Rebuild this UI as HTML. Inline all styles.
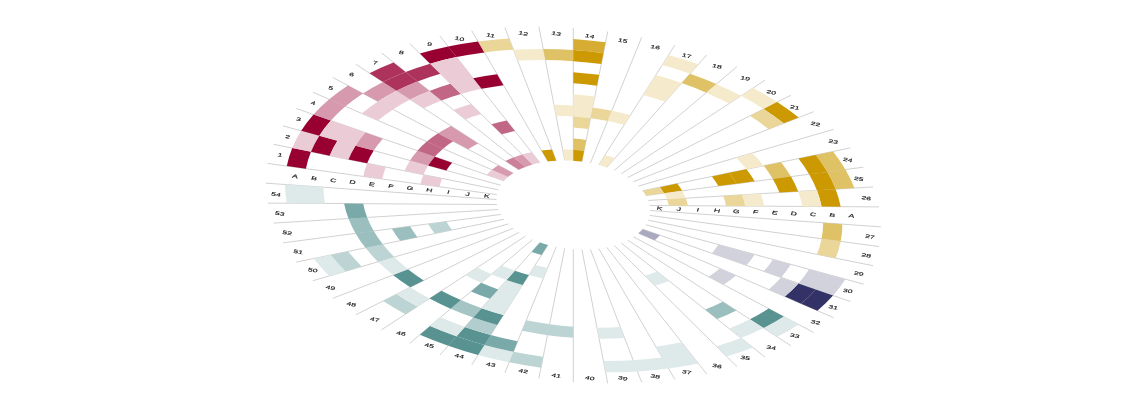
<!DOCTYPE html><html><head><meta charset="utf-8"><style>html,body{margin:0;padding:0;background:#fff;width:1140px;height:400px;overflow:hidden}</style></head><body><svg width="1140" height="400" viewBox="0 0 1140 400" style="display:block"><defs><filter id="b" x="-5%" y="-5%" width="110%" height="110%"><feGaussianBlur stdDeviation="0.55"/></filter></defs>
<g filter="url(#b)">
<g transform="matrix(0.96100 0.06833 0.00000 0.55333 573.30 205.00)">
<path d="M0.00 -80.00L0.00 -320.00M8.96 -79.50L35.83 -317.99M17.80 -77.99L71.21 -311.98M26.42 -75.51L105.69 -302.04M34.71 -72.08L138.84 -288.31M42.56 -67.74L170.25 -270.95M49.88 -62.55L199.52 -250.19M56.57 -56.57L226.27 -226.27M62.55 -49.88L250.19 -199.52M67.74 -42.56L270.95 -170.25M72.08 -34.71L288.31 -138.84M75.51 -26.42L302.04 -105.69M77.99 -17.80L311.98 -71.21M79.50 -8.96L317.99 -35.83M80.00 -0.00L320.00 -0.00M79.50 8.96L317.99 35.83M77.99 17.80L311.98 71.21M75.51 26.42L302.04 105.69M72.08 34.71L288.31 138.84M67.74 42.56L270.95 170.25M62.55 49.88L250.19 199.52M56.57 56.57L226.27 226.27M49.88 62.55L199.52 250.19M42.56 67.74L170.25 270.95M34.71 72.08L138.84 288.31M26.42 75.51L105.69 302.04M17.80 77.99L71.21 311.98M8.96 79.50L35.83 317.99M0.00 80.00L0.00 320.00M-8.96 79.50L-35.83 317.99M-17.80 77.99L-71.21 311.98M-26.42 75.51L-105.69 302.04M-34.71 72.08L-138.84 288.31M-42.56 67.74L-170.25 270.95M-49.88 62.55L-199.52 250.19M-56.57 56.57L-226.27 226.27M-62.55 49.88L-250.19 199.52M-67.74 42.56L-270.95 170.25M-72.08 34.71L-288.31 138.84M-75.51 26.42L-302.04 105.69M-77.99 17.80L-311.98 71.21M-79.50 8.96L-317.99 35.83M-80.00 0.00L-320.00 0.00M-79.50 -8.96L-317.99 -35.83M-77.99 -17.80L-311.98 -71.21M-75.51 -26.42L-302.04 -105.69M-72.08 -34.71L-288.31 -138.84M-67.74 -42.56L-270.95 -170.25M-62.55 -49.88L-250.19 -199.52M-56.57 -56.57L-226.27 -226.27M-49.88 -62.55L-199.52 -250.19M-42.56 -67.74L-170.25 -270.95M-34.71 -72.08L-138.84 -288.31M-26.42 -75.51L-105.69 -302.04M-17.80 -77.99L-71.21 -311.98M-8.96 -79.50L-35.83 -317.99" fill="none" stroke="#c4c4c4" stroke-width="1.0"/>
<path d="M-298.11 -33.59A300 300 0 0 1 -292.48 -66.76L-272.98 -62.31A280 280 0 0 0 -278.24 -31.35Z" fill="#990033"/>
<path d="M-218.62 -24.63A220 220 0 0 1 -214.48 -48.95L-194.99 -44.50A200 200 0 0 0 -198.74 -22.39Z" fill="#ebccd6"/>
<path d="M-158.99 -17.91A160 160 0 0 1 -155.99 -35.60L-136.49 -31.15A140 140 0 0 0 -139.12 -15.68Z" fill="#ebccd6"/>
<path d="M-292.48 -66.76A300 300 0 0 1 -283.16 -99.08L-264.29 -92.48A280 280 0 0 0 -272.98 -62.31Z" fill="#ebccd6"/>
<path d="M-272.98 -62.31A280 280 0 0 1 -264.29 -92.48L-245.41 -85.87A260 260 0 0 0 -253.48 -57.86Z" fill="#990033"/>
<path d="M-253.48 -57.86A260 260 0 0 1 -245.41 -85.87L-226.53 -79.27A240 240 0 0 0 -233.98 -53.41Z" fill="#ebccd6"/>
<path d="M-233.98 -53.41A240 240 0 0 1 -226.53 -79.27L-207.65 -72.66A220 220 0 0 0 -214.48 -48.95Z" fill="#990033"/>
<path d="M-175.49 -40.05A180 180 0 0 1 -169.90 -59.45L-151.02 -52.84A160 160 0 0 0 -155.99 -35.60Z" fill="#ebccd6"/>
<path d="M-283.16 -99.08A300 300 0 0 1 -270.29 -130.17L-252.27 -121.49A280 280 0 0 0 -264.29 -92.48Z" fill="#990033"/>
<path d="M-264.29 -92.48A280 280 0 0 1 -252.27 -121.49L-216.23 -104.13A240 240 0 0 0 -226.53 -79.27Z" fill="#ebccd6"/>
<path d="M-226.53 -79.27A240 240 0 0 1 -216.23 -104.13L-198.21 -95.45A220 220 0 0 0 -207.65 -72.66Z" fill="#d699ad"/>
<path d="M-169.90 -59.45A180 180 0 0 1 -162.17 -78.10L-144.16 -69.42A160 160 0 0 0 -151.02 -52.84Z" fill="#d699ad"/>
<path d="M-151.02 -52.84A160 160 0 0 1 -144.16 -69.42L-126.14 -60.74A140 140 0 0 0 -132.14 -46.24Z" fill="#990033"/>
<path d="M-270.29 -130.17A300 300 0 0 1 -254.02 -159.61L-237.08 -148.97A280 280 0 0 0 -252.27 -121.49Z" fill="#d699ad"/>
<path d="M-162.17 -78.10A180 180 0 0 1 -152.41 -95.77L-135.48 -85.13A160 160 0 0 0 -144.16 -69.42Z" fill="#c26685"/>
<path d="M-90.10 -43.39A100 100 0 0 1 -84.67 -53.20L-67.74 -42.56A80 80 0 0 0 -72.08 -34.71Z" fill="#ebccd6"/>
<path d="M-254.02 -159.61A300 300 0 0 1 -234.55 -187.05L-218.91 -174.58A280 280 0 0 0 -237.08 -148.97Z" fill="#d699ad"/>
<path d="M-220.15 -138.33A260 260 0 0 1 -203.28 -162.11L-187.64 -149.64A240 240 0 0 0 -203.21 -127.69Z" fill="#ebccd6"/>
<path d="M-152.41 -95.77A180 180 0 0 1 -140.73 -112.23L-125.09 -99.76A160 160 0 0 0 -135.48 -85.13Z" fill="#c26685"/>
<path d="M-84.67 -53.20A100 100 0 0 1 -78.18 -62.35L-62.55 -49.88A80 80 0 0 0 -67.74 -42.56Z" fill="#d699ad"/>
<path d="M-218.91 -174.58A280 280 0 0 1 -197.99 -197.99L-183.85 -183.85A260 260 0 0 0 -203.28 -162.11Z" fill="#d699ad"/>
<path d="M-203.28 -162.11A260 260 0 0 1 -183.85 -183.85L-169.71 -169.71A240 240 0 0 0 -187.64 -149.64Z" fill="#ebccd6"/>
<path d="M-140.73 -112.23A180 180 0 0 1 -127.28 -127.28L-98.99 -98.99A140 140 0 0 0 -109.46 -87.29Z" fill="#d699ad"/>
<path d="M-212.13 -212.13A300 300 0 0 1 -187.05 -234.55L-174.58 -218.91A280 280 0 0 0 -197.99 -197.99Z" fill="#ad335c"/>
<path d="M-197.99 -197.99A280 280 0 0 1 -174.58 -218.91L-162.11 -203.28A260 260 0 0 0 -183.85 -183.85Z" fill="#ad335c"/>
<path d="M-183.85 -183.85A260 260 0 0 1 -162.11 -203.28L-149.64 -187.64A240 240 0 0 0 -169.71 -169.71Z" fill="#d699ad"/>
<path d="M-169.71 -169.71A240 240 0 0 1 -149.64 -187.64L-137.17 -172.00A220 220 0 0 0 -155.56 -155.56Z" fill="#ebccd6"/>
<path d="M-70.71 -70.71A100 100 0 0 1 -62.35 -78.18L-49.88 -62.55A80 80 0 0 0 -56.57 -56.57Z" fill="#cc8099"/>
<path d="M-174.58 -218.91A280 280 0 0 1 -148.97 -237.08L-138.33 -220.15A260 260 0 0 0 -162.11 -203.28Z" fill="#ad335c"/>
<path d="M-149.64 -187.64A240 240 0 0 1 -127.69 -203.21L-117.05 -186.28A220 220 0 0 0 -137.17 -172.00Z" fill="#c26685"/>
<path d="M-124.70 -156.37A200 200 0 0 1 -106.41 -169.34L-95.77 -152.41A180 180 0 0 0 -112.23 -140.73Z" fill="#ebccd6"/>
<path d="M-62.35 -78.18A100 100 0 0 1 -53.20 -84.67L-42.56 -67.74A80 80 0 0 0 -49.88 -62.55Z" fill="#d699ad"/>
<path d="M-159.61 -254.02A300 300 0 0 1 -130.17 -270.29L-121.49 -252.27A280 280 0 0 0 -148.97 -237.08Z" fill="#990033"/>
<path d="M-148.97 -237.08A280 280 0 0 1 -121.49 -252.27L-95.45 -198.21A220 220 0 0 0 -117.05 -186.28Z" fill="#ebccd6"/>
<path d="M-85.13 -135.48A160 160 0 0 1 -69.42 -144.16L-60.74 -126.14A140 140 0 0 0 -74.48 -118.54Z" fill="#c26685"/>
<path d="M-53.20 -84.67A100 100 0 0 1 -43.39 -90.10L-34.71 -72.08A80 80 0 0 0 -42.56 -67.74Z" fill="#ebccd6"/>
<path d="M-130.17 -270.29A300 300 0 0 1 -99.08 -283.16L-92.48 -264.29A280 280 0 0 0 -121.49 -252.27Z" fill="#990033"/>
<path d="M-104.13 -216.23A240 240 0 0 1 -79.27 -226.53L-72.66 -207.65A220 220 0 0 0 -95.45 -198.21Z" fill="#990033"/>
<path d="M-99.08 -283.16A300 300 0 0 1 -66.76 -292.48L-62.31 -272.98A280 280 0 0 0 -92.48 -264.29Z" fill="#ebd699"/>
<path d="M-33.03 -94.39A100 100 0 0 1 -22.25 -97.49L-17.80 -77.99A80 80 0 0 0 -26.42 -75.51Z" fill="#cc9900"/>
<path d="M-62.31 -272.98A280 280 0 0 1 -31.35 -278.24L-29.11 -258.37A260 260 0 0 0 -57.86 -253.48Z" fill="#f5ebcc"/>
<path d="M-31.35 -278.24A280 280 0 0 1 -0.00 -280.00L-0.00 -260.00A260 260 0 0 0 -29.11 -258.37Z" fill="#e0c266"/>
<path d="M-20.15 -178.87A180 180 0 0 1 -0.00 -180.00L-0.00 -160.00A160 160 0 0 0 -17.91 -158.99Z" fill="#f5ebcc"/>
<path d="M-11.20 -99.37A100 100 0 0 1 -0.00 -100.00L-0.00 -80.00A80 80 0 0 0 -8.96 -79.50Z" fill="#f5ebcc"/>
<path d="M0.00 -300.00A300 300 0 0 1 33.59 -298.11L31.35 -278.24A280 280 0 0 0 0.00 -280.00Z" fill="#d6ad33"/>
<path d="M0.00 -280.00A280 280 0 0 1 31.35 -278.24L29.11 -258.37A260 260 0 0 0 0.00 -260.00Z" fill="#cc9900"/>
<path d="M0.00 -240.00A240 240 0 0 1 26.87 -238.49L24.63 -218.62A220 220 0 0 0 0.00 -220.00Z" fill="#cc9900"/>
<path d="M0.00 -200.00A200 200 0 0 1 22.39 -198.74L17.91 -158.99A160 160 0 0 0 0.00 -160.00Z" fill="#f5ebcc"/>
<path d="M0.00 -160.00A160 160 0 0 1 17.91 -158.99L15.68 -139.12A140 140 0 0 0 0.00 -140.00Z" fill="#ebd699"/>
<path d="M0.00 -120.00A120 120 0 0 1 13.44 -119.25L11.20 -99.37A100 100 0 0 0 0.00 -100.00Z" fill="#e0c266"/>
<path d="M0.00 -100.00A100 100 0 0 1 11.20 -99.37L8.96 -79.50A80 80 0 0 0 0.00 -80.00Z" fill="#cc9900"/>
<path d="M20.15 -178.87A180 180 0 0 1 40.05 -175.49L35.60 -155.99A160 160 0 0 0 17.91 -158.99Z" fill="#ebd699"/>
<path d="M40.05 -175.49A180 180 0 0 1 59.45 -169.90L52.84 -151.02A160 160 0 0 0 35.60 -155.99Z" fill="#f5ebcc"/>
<path d="M99.08 -283.16A300 300 0 0 1 130.17 -270.29L121.49 -252.27A280 280 0 0 0 92.48 -264.29Z" fill="#f5ebcc"/>
<path d="M85.87 -245.41A260 260 0 0 1 112.81 -234.25L95.45 -198.21A220 220 0 0 0 72.66 -207.65Z" fill="#f5ebcc"/>
<path d="M33.03 -94.39A100 100 0 0 1 43.39 -90.10L34.71 -72.08A80 80 0 0 0 26.42 -75.51Z" fill="#f5ebcc"/>
<path d="M121.49 -252.27A280 280 0 0 1 148.97 -237.08L138.33 -220.15A260 260 0 0 0 112.81 -234.25Z" fill="#e0c266"/>
<path d="M148.97 -237.08A280 280 0 0 1 174.58 -218.91L162.11 -203.28A260 260 0 0 0 138.33 -220.15Z" fill="#f5ebcc"/>
<path d="M187.05 -234.55A300 300 0 0 1 212.13 -212.13L197.99 -197.99A280 280 0 0 0 174.58 -218.91Z" fill="#f5ebcc"/>
<path d="M212.13 -212.13A300 300 0 0 1 234.55 -187.05L218.91 -174.58A280 280 0 0 0 197.99 -197.99Z" fill="#cc9900"/>
<path d="M197.99 -197.99A280 280 0 0 1 218.91 -174.58L203.28 -162.11A260 260 0 0 0 183.85 -183.85Z" fill="#ebd699"/>
<path d="M186.28 -117.05A220 220 0 0 1 198.21 -95.45L180.19 -86.78A200 200 0 0 0 169.34 -106.41Z" fill="#f5ebcc"/>
<path d="M270.29 -130.17A300 300 0 0 1 283.16 -99.08L264.29 -92.48A280 280 0 0 0 252.27 -121.49Z" fill="#e0c266"/>
<path d="M252.27 -121.49A280 280 0 0 1 264.29 -92.48L245.41 -85.87A260 260 0 0 0 234.25 -112.81Z" fill="#cc9900"/>
<path d="M216.23 -104.13A240 240 0 0 1 226.53 -79.27L207.65 -72.66A220 220 0 0 0 198.21 -95.45Z" fill="#e0c266"/>
<path d="M180.19 -86.78A200 200 0 0 1 188.78 -66.06L169.90 -59.45A180 180 0 0 0 162.17 -78.10Z" fill="#cc9900"/>
<path d="M162.17 -78.10A180 180 0 0 1 169.90 -59.45L151.02 -52.84A160 160 0 0 0 144.16 -69.42Z" fill="#cc9900"/>
<path d="M108.12 -52.07A120 120 0 0 1 113.27 -39.63L94.39 -33.03A100 100 0 0 0 90.10 -43.39Z" fill="#cc9900"/>
<path d="M90.10 -43.39A100 100 0 0 1 94.39 -33.03L75.51 -26.42A80 80 0 0 0 72.08 -34.71Z" fill="#ebd699"/>
<path d="M283.16 -99.08A300 300 0 0 1 292.48 -66.76L272.98 -62.31A280 280 0 0 0 264.29 -92.48Z" fill="#e0c266"/>
<path d="M264.29 -92.48A280 280 0 0 1 272.98 -62.31L253.48 -57.86A260 260 0 0 0 245.41 -85.87Z" fill="#cc9900"/>
<path d="M226.53 -79.27A240 240 0 0 1 233.98 -53.41L214.48 -48.95A220 220 0 0 0 207.65 -72.66Z" fill="#cc9900"/>
<path d="M113.27 -39.63A120 120 0 0 1 116.99 -26.70L97.49 -22.25A100 100 0 0 0 94.39 -33.03Z" fill="#f5ebcc"/>
<path d="M272.98 -62.31A280 280 0 0 1 278.24 -31.35L258.37 -29.11A260 260 0 0 0 253.48 -57.86Z" fill="#cc9900"/>
<path d="M253.48 -57.86A260 260 0 0 1 258.37 -29.11L238.49 -26.87A240 240 0 0 0 233.98 -53.41Z" fill="#f5ebcc"/>
<path d="M194.99 -44.50A200 200 0 0 1 198.74 -22.39L178.87 -20.15A180 180 0 0 0 175.49 -40.05Z" fill="#f5ebcc"/>
<path d="M175.49 -40.05A180 180 0 0 1 178.87 -20.15L158.99 -17.91A160 160 0 0 0 155.99 -35.60Z" fill="#ebd699"/>
<path d="M116.99 -26.70A120 120 0 0 1 119.25 -13.44L99.37 -11.20A100 100 0 0 0 97.49 -22.25Z" fill="#ebd699"/>
<path d="M280.00 -0.00A280 280 0 0 1 278.24 31.35L258.37 29.11A260 260 0 0 0 260.00 -0.00Z" fill="#e0c266"/>
<path d="M278.24 31.35A280 280 0 0 1 272.98 62.31L253.48 57.86A260 260 0 0 0 258.37 29.11Z" fill="#ebd699"/>
<path d="M283.16 99.08A300 300 0 0 1 270.29 130.17L234.25 112.81A260 260 0 0 0 245.41 85.87Z" fill="#d2d2dd"/>
<path d="M226.53 79.27A240 240 0 0 1 216.23 104.13L198.21 95.45A220 220 0 0 0 207.65 72.66Z" fill="#d2d2dd"/>
<path d="M188.78 66.06A200 200 0 0 1 180.19 86.78L144.16 69.42A160 160 0 0 0 151.02 52.84Z" fill="#d2d2dd"/>
<path d="M270.29 130.17A300 300 0 0 1 254.02 159.61L237.08 148.97A280 280 0 0 0 252.27 121.49Z" fill="#333366"/>
<path d="M252.27 121.49A280 280 0 0 1 237.08 148.97L220.15 138.33A260 260 0 0 0 234.25 112.81Z" fill="#333366"/>
<path d="M234.25 112.81A260 260 0 0 1 220.15 138.33L203.21 127.69A240 240 0 0 0 216.23 104.13Z" fill="#d2d2dd"/>
<path d="M90.10 43.39A100 100 0 0 1 84.67 53.20L67.74 42.56A80 80 0 0 0 72.08 34.71Z" fill="#a9a9bf"/>
<path d="M169.34 106.41A200 200 0 0 1 156.37 124.70L140.73 112.23A180 180 0 0 0 152.41 95.77Z" fill="#d2d2dd"/>
<path d="M234.55 187.05A300 300 0 0 1 212.13 212.13L197.99 197.99A280 280 0 0 0 218.91 174.58Z" fill="#dee9e9"/>
<path d="M218.91 174.58A280 280 0 0 1 197.99 197.99L183.85 183.85A260 260 0 0 0 203.28 162.11Z" fill="#589392"/>
<path d="M197.99 197.99A280 280 0 0 1 174.58 218.91L162.11 203.28A260 260 0 0 0 183.85 183.85Z" fill="#dee9e9"/>
<path d="M169.71 169.71A240 240 0 0 1 149.64 187.64L137.17 172.00A220 220 0 0 0 155.56 155.56Z" fill="#9bbebe"/>
<path d="M187.05 234.55A300 300 0 0 1 159.61 254.02L148.97 237.08A280 280 0 0 0 174.58 218.91Z" fill="#dee9e9"/>
<path d="M99.76 125.09A160 160 0 0 1 85.13 135.48L74.48 118.54A140 140 0 0 0 87.29 109.46Z" fill="#dee9e9"/>
<path d="M130.17 270.29A300 300 0 0 1 99.08 283.16L85.87 245.41A260 260 0 0 0 112.81 234.25Z" fill="#dee9e9"/>
<path d="M99.08 283.16A300 300 0 0 1 66.76 292.48L62.31 272.98A280 280 0 0 0 92.48 264.29Z" fill="#dee9e9"/>
<path d="M66.76 292.48A300 300 0 0 1 33.59 298.11L31.35 278.24A280 280 0 0 0 62.31 272.98Z" fill="#dee9e9"/>
<path d="M53.41 233.98A240 240 0 0 1 26.87 238.49L24.63 218.62A220 220 0 0 0 48.95 214.48Z" fill="#dee9e9"/>
<path d="M0.00 240.00A240 240 0 0 1 -26.87 238.49L-24.63 218.62A220 220 0 0 0 0.00 220.00Z" fill="#bcd4d3"/>
<path d="M-33.59 298.11A300 300 0 0 1 -66.76 292.48L-62.31 272.98A280 280 0 0 0 -31.35 278.24Z" fill="#bcd4d3"/>
<path d="M-26.87 238.49A240 240 0 0 1 -53.41 233.98L-48.95 214.48A220 220 0 0 0 -24.63 218.62Z" fill="#bcd4d3"/>
<path d="M-66.76 292.48A300 300 0 0 1 -99.08 283.16L-92.48 264.29A280 280 0 0 0 -62.31 272.98Z" fill="#dee9e9"/>
<path d="M-62.31 272.98A280 280 0 0 1 -92.48 264.29L-85.87 245.41A260 260 0 0 0 -57.86 253.48Z" fill="#79a9a8"/>
<path d="M-31.15 136.49A140 140 0 0 1 -46.24 132.14L-39.63 113.27A120 120 0 0 0 -26.70 116.99Z" fill="#dee9e9"/>
<path d="M-99.08 283.16A300 300 0 0 1 -130.17 270.29L-121.49 252.27A280 280 0 0 0 -92.48 264.29Z" fill="#589392"/>
<path d="M-92.48 264.29A280 280 0 0 1 -121.49 252.27L-112.81 234.25A260 260 0 0 0 -85.87 245.41Z" fill="#589392"/>
<path d="M-85.87 245.41A260 260 0 0 1 -112.81 234.25L-104.13 216.23A240 240 0 0 0 -79.27 226.53Z" fill="#b2cdcd"/>
<path d="M-79.27 226.53A240 240 0 0 1 -104.13 216.23L-95.45 198.21A220 220 0 0 0 -72.66 207.65Z" fill="#589392"/>
<path d="M-72.66 207.65A220 220 0 0 1 -95.45 198.21L-69.42 144.16A160 160 0 0 0 -52.84 151.02Z" fill="#dee9e9"/>
<path d="M-52.84 151.02A160 160 0 0 1 -69.42 144.16L-60.74 126.14A140 140 0 0 0 -46.24 132.14Z" fill="#589392"/>
<path d="M-33.03 94.39A100 100 0 0 1 -43.39 90.10L-34.71 72.08A80 80 0 0 0 -26.42 75.51Z" fill="#79a9a8"/>
<path d="M-130.17 270.29A300 300 0 0 1 -159.61 254.02L-148.97 237.08A280 280 0 0 0 -121.49 252.27Z" fill="#589392"/>
<path d="M-121.49 252.27A280 280 0 0 1 -148.97 237.08L-138.33 220.15A260 260 0 0 0 -112.81 234.25Z" fill="#dee9e9"/>
<path d="M-104.13 216.23A240 240 0 0 1 -127.69 203.21L-117.05 186.28A220 220 0 0 0 -95.45 198.21Z" fill="#a5c5c4"/>
<path d="M-86.78 180.19A200 200 0 0 1 -106.41 169.34L-95.77 152.41A180 180 0 0 0 -78.10 162.17Z" fill="#79a9a8"/>
<path d="M-69.42 144.16A160 160 0 0 1 -85.13 135.48L-74.48 118.54A140 140 0 0 0 -60.74 126.14Z" fill="#dee9e9"/>
<path d="M-127.69 203.21A240 240 0 0 1 -149.64 187.64L-137.17 172.00A220 220 0 0 0 -117.05 186.28Z" fill="#589392"/>
<path d="M-95.77 152.41A180 180 0 0 1 -112.23 140.73L-99.76 125.09A160 160 0 0 0 -85.13 135.48Z" fill="#dee9e9"/>
<path d="M-174.58 218.91A280 280 0 0 1 -197.99 197.99L-183.85 183.85A260 260 0 0 0 -162.11 203.28Z" fill="#bcd4d3"/>
<path d="M-162.11 203.28A260 260 0 0 1 -183.85 183.85L-169.71 169.71A240 240 0 0 0 -149.64 187.64Z" fill="#dee9e9"/>
<path d="M-169.71 169.71A240 240 0 0 1 -187.64 149.64L-172.00 137.17A220 220 0 0 0 -155.56 155.56Z" fill="#589392"/>
<path d="M-187.64 149.64A240 240 0 0 1 -203.21 127.69L-186.28 117.05A220 220 0 0 0 -172.00 137.17Z" fill="#dee9e9"/>
<path d="M-254.02 159.61A300 300 0 0 1 -270.29 130.17L-252.27 121.49A280 280 0 0 0 -237.08 148.97Z" fill="#dee9e9"/>
<path d="M-237.08 148.97A280 280 0 0 1 -252.27 121.49L-234.25 112.81A260 260 0 0 0 -220.15 138.33Z" fill="#bcd4d3"/>
<path d="M-203.21 127.69A240 240 0 0 1 -216.23 104.13L-198.21 95.45A220 220 0 0 0 -186.28 117.05Z" fill="#bcd4d3"/>
<path d="M-216.23 104.13A240 240 0 0 1 -226.53 79.27L-207.65 72.66A220 220 0 0 0 -198.21 95.45Z" fill="#9bbebe"/>
<path d="M-180.19 86.78A200 200 0 0 1 -188.78 66.06L-169.90 59.45A180 180 0 0 0 -162.17 78.10Z" fill="#9bbebe"/>
<path d="M-144.16 69.42A160 160 0 0 1 -151.02 52.84L-132.14 46.24A140 140 0 0 0 -126.14 60.74Z" fill="#bcd4d3"/>
<path d="M-226.53 79.27A240 240 0 0 1 -233.98 53.41L-214.48 48.95A220 220 0 0 0 -207.65 72.66Z" fill="#9bbebe"/>
<path d="M-233.98 53.41A240 240 0 0 1 -238.49 26.87L-218.62 24.63A220 220 0 0 0 -214.48 48.95Z" fill="#79a9a8"/>
<path d="M-298.11 33.59A300 300 0 0 1 -300.00 0.00L-260.00 0.00A260 260 0 0 0 -258.37 29.11Z" fill="#dee9e9"/>
<g font-family="Liberation Sans, sans-serif" font-size="9" text-anchor="middle" fill="#1a1a1a" stroke="#1a1a1a" stroke-width="0.25">
<text transform="translate(-305.13 -51.84) rotate(10)" y="2.04">1</text>
<text transform="translate(-297.40 -85.68) rotate(10)" y="2.04">2</text>
<text transform="translate(-285.94 -118.44) rotate(10)" y="2.04">3</text>
<text transform="translate(-270.88 -149.71) rotate(10)" y="2.04">4</text>
<text transform="translate(-252.42 -179.10) rotate(10)" y="2.04">5</text>
<text transform="translate(-230.78 -206.23) rotate(10)" y="2.04">6</text>
<text transform="translate(-206.23 -230.78) rotate(10)" y="2.04">7</text>
<text transform="translate(-179.10 -252.42) rotate(10)" y="2.04">8</text>
<text transform="translate(-149.71 -270.88) rotate(10)" y="2.04">9</text>
<text transform="translate(-118.44 -285.94) rotate(10)" y="3.24">10</text>
<text transform="translate(-85.68 -297.40) rotate(10)" y="4.74">11</text>
<text transform="translate(-51.84 -305.13) rotate(10)" y="4.74">12</text>
<text transform="translate(-17.35 -309.01) rotate(10)" y="4.74">13</text>
<text transform="translate(17.35 -309.01) rotate(10)" y="4.74">14</text>
<text transform="translate(51.84 -305.13) rotate(10)" y="4.74">15</text>
<text transform="translate(85.68 -297.40) rotate(10)" y="4.74">16</text>
<text transform="translate(118.44 -285.94) rotate(10)" y="4.74">17</text>
<text transform="translate(149.71 -270.88) rotate(10)" y="4.74">18</text>
<text transform="translate(179.10 -252.42) rotate(10)" y="4.74">19</text>
<text transform="translate(206.23 -230.78) rotate(10)" y="4.74">20</text>
<text transform="translate(230.78 -206.23) rotate(10)" y="4.74">21</text>
<text transform="translate(252.42 -179.10) rotate(10)" y="4.74">22</text>
<text transform="translate(270.88 -149.71) rotate(10)" y="4.74">23</text>
<text transform="translate(285.94 -118.44) rotate(10)" y="4.74">24</text>
<text transform="translate(297.40 -85.68) rotate(10)" y="4.74">25</text>
<text transform="translate(305.13 -51.84) rotate(10)" y="4.74">26</text>
<text transform="translate(309.01 17.35) rotate(10)" y="4.74">27</text>
<text transform="translate(305.13 51.84) rotate(10)" y="4.74">28</text>
<text transform="translate(297.40 85.68) rotate(10)" y="4.74">29</text>
<text transform="translate(285.94 118.44) rotate(10)" y="4.74">30</text>
<text transform="translate(270.88 149.71) rotate(10)" y="4.74">31</text>
<text transform="translate(252.42 179.10) rotate(10)" y="4.74">32</text>
<text transform="translate(230.78 206.23) rotate(10)" y="4.74">33</text>
<text transform="translate(206.23 230.78) rotate(10)" y="4.74">34</text>
<text transform="translate(179.10 252.42) rotate(10)" y="4.74">35</text>
<text transform="translate(149.71 270.88) rotate(10)" y="4.74">36</text>
<text transform="translate(118.44 285.94) rotate(10)" y="4.74">37</text>
<text transform="translate(85.68 297.40) rotate(10)" y="4.74">38</text>
<text transform="translate(51.84 305.13) rotate(10)" y="4.74">39</text>
<text transform="translate(17.35 309.01) rotate(10)" y="4.74">40</text>
<text transform="translate(-17.35 309.01) rotate(10)" y="4.74">41</text>
<text transform="translate(-51.84 305.13) rotate(10)" y="4.74">42</text>
<text transform="translate(-85.68 297.40) rotate(10)" y="4.74">43</text>
<text transform="translate(-118.44 285.94) rotate(10)" y="4.74">44</text>
<text transform="translate(-149.71 270.88) rotate(10)" y="4.74">45</text>
<text transform="translate(-179.10 252.42) rotate(10)" y="4.74">46</text>
<text transform="translate(-206.23 230.78) rotate(10)" y="4.74">47</text>
<text transform="translate(-230.78 206.23) rotate(10)" y="4.74">48</text>
<text transform="translate(-252.42 179.10) rotate(10)" y="4.74">49</text>
<text transform="translate(-270.88 149.71) rotate(10)" y="4.74">50</text>
<text transform="translate(-285.94 118.44) rotate(10)" y="4.74">51</text>
<text transform="translate(-297.40 85.68) rotate(10)" y="4.74">52</text>
<text transform="translate(-305.13 51.84) rotate(10)" y="4.74">53</text>
<text transform="translate(-309.01 17.35) rotate(10)" y="4.74">54</text>
<text transform="translate(-289.54 -16.26) rotate(10)" y="3.24">A</text>
<text transform="translate(289.54 -16.26) rotate(10)" y="3.24">A</text>
<text transform="translate(-269.58 -15.14) rotate(10)" y="3.24">B</text>
<text transform="translate(269.58 -15.14) rotate(10)" y="3.24">B</text>
<text transform="translate(-249.61 -14.02) rotate(10)" y="3.24">C</text>
<text transform="translate(249.61 -14.02) rotate(10)" y="3.24">C</text>
<text transform="translate(-229.64 -12.90) rotate(10)" y="3.24">D</text>
<text transform="translate(229.64 -12.90) rotate(10)" y="3.24">D</text>
<text transform="translate(-209.67 -11.77) rotate(10)" y="3.24">E</text>
<text transform="translate(209.67 -11.77) rotate(10)" y="3.24">E</text>
<text transform="translate(-189.70 -10.65) rotate(10)" y="3.24">F</text>
<text transform="translate(189.70 -10.65) rotate(10)" y="3.24">F</text>
<text transform="translate(-169.73 -9.53) rotate(10)" y="3.24">G</text>
<text transform="translate(169.73 -9.53) rotate(10)" y="3.24">G</text>
<text transform="translate(-149.76 -8.41) rotate(10)" y="3.24">H</text>
<text transform="translate(149.76 -8.41) rotate(10)" y="3.24">H</text>
<text transform="translate(-129.80 -7.29) rotate(10)" y="3.24">I</text>
<text transform="translate(129.80 -7.29) rotate(10)" y="3.24">I</text>
<text transform="translate(-109.83 -6.17) rotate(10)" y="3.24">J</text>
<text transform="translate(109.83 -6.17) rotate(10)" y="3.24">J</text>
<text transform="translate(-89.86 -5.05) rotate(10)" y="3.24">K</text>
<text transform="translate(89.86 -5.05) rotate(10)" y="3.24">K</text>
</g></g></g></svg></body></html>
